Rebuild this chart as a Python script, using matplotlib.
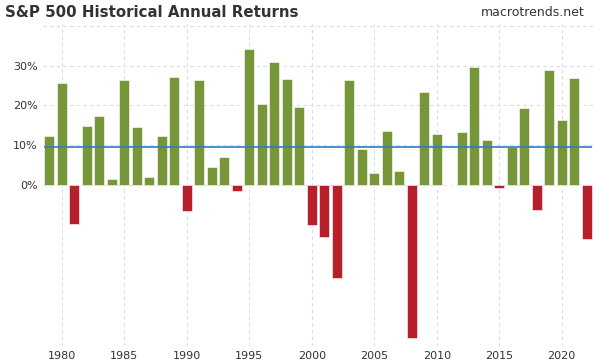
import matplotlib.pyplot as plt
from matplotlib.ticker import FuncFormatter

years = list(range(1979, 2023))
returns = [12.31, 25.77, -9.73, 14.76, 17.27, 1.40, 26.33, 14.62, 2.03, 12.40,
           27.25, -6.56, 26.31, 4.46, 7.06, -1.54, 34.11, 20.26, 31.01, 26.67,
           19.53, -10.14, -13.04, -23.37, 26.38, 8.99, 3.00, 13.62, 3.53, -38.49,
           23.45, 12.78, 0.00, 13.41, 29.60, 11.39, -0.73, 9.54, 19.42, -6.24,
           28.88, 16.26, 26.89, -13.7]
average = 9.6

green = "#77963a"
red = "#b71f2a"
colors = [green if r >= 0 else red for r in returns]

fig = plt.figure(figsize=(6, 3.62), dpi=100)
ax = fig.add_axes([43 / 600, 16 / 362, 550 / 600, 322 / 362])

ax.bar(years, returns, width=0.82, color=colors, edgecolor="white", linewidth=0.4, zorder=2)
ax.hlines(average, years[0] - 0.45, years[-1] + 0.45, color="#2f7bc4", linewidth=1.2, zorder=3)

ax.set_xlim(1978.5, 2022.5)
ax.set_ylim(-40.5, 40.5)
ax.set_xticks(range(1980, 2021, 5))
ax.set_yticks([0, 10, 20, 30])
ax.yaxis.set_major_formatter(FuncFormatter(lambda v, p: f"{v:.0f}%"))

ax.grid(True, color="#dcdcdc", linestyle=(0, (3, 3)), linewidth=0.8, zorder=0)
ax.axhline(40, color="#dcdcdc", linestyle=(0, (3, 3)), linewidth=0.8, zorder=0)

for s in ax.spines.values():
    s.set_visible(False)
ax.tick_params(length=0, labelsize=8, colors="#333333")
ax.tick_params(axis="y", pad=4)

fig.text(0.008, 0.965, "S&P 500 Historical Annual Returns", fontsize=10.8,
         fontweight="bold", color="#333333", va="center", ha="left")
fig.text(0.975, 0.965, "macrotrends.net", fontsize=9, color="#333333",
         va="center", ha="right")

fig.savefig("out.png", dpi=100)
